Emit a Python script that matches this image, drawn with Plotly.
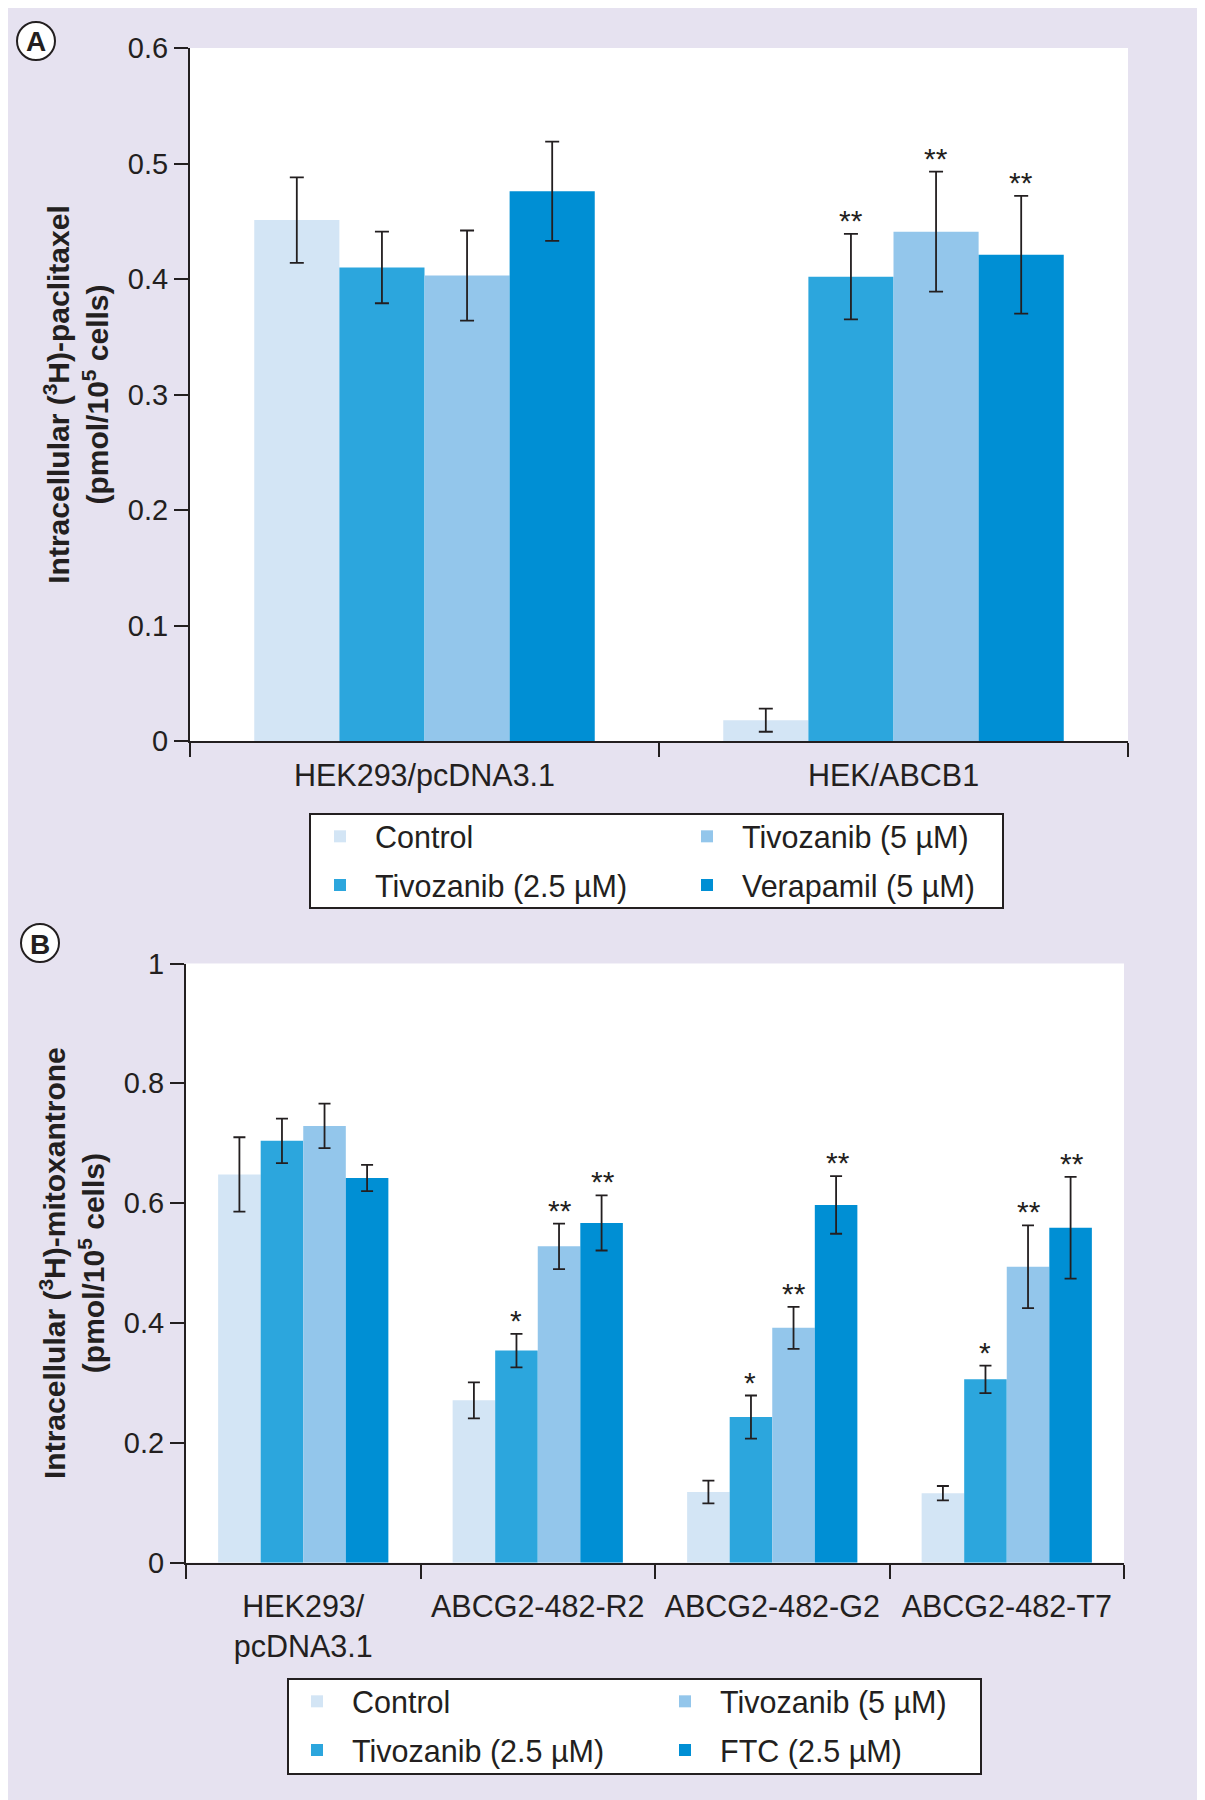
import plotly.graph_objects as go

# ---- data ----
groups_a = ["HEK293/pcDNA3.1", "HEK/ABCB1"]
series_a = ["Control", "Tivozanib (2.5 µM)", "Tivozanib (5 µM)", "Verapamil (5 µM)"]
values_a = [
    [0.451, 0.018],
    [0.410, 0.402],
    [0.403, 0.441],
    [0.476, 0.421],
]
errors_a = [
    [0.037, 0.010],
    [0.031, 0.037],
    [0.039, 0.052],
    [0.043, 0.051],
]
stars_a = [
    ["", ""],
    ["", "**"],
    ["", "**"],
    ["", "**"],
]

groups_b = ["HEK293/<br>pcDNA3.1", "ABCG2-482-R2", "ABCG2-482-G2", "ABCG2-482-T7"]
series_b = ["Control", "Tivozanib (2.5 µM)", "Tivozanib (5 µM)", "FTC (2.5 µM)"]
values_b = [
    [0.648, 0.271, 0.118, 0.116],
    [0.704, 0.354, 0.243, 0.306],
    [0.729, 0.528, 0.392, 0.494],
    [0.642, 0.567, 0.597, 0.559],
]
errors_b = [
    [0.062, 0.030, 0.019, 0.012],
    [0.037, 0.028, 0.036, 0.023],
    [0.037, 0.038, 0.035, 0.069],
    [0.022, 0.046, 0.048, 0.085],
]
stars_b = [
    ["", "", "", ""],
    ["", "*", "*", "*"],
    ["", "**", "**", "**"],
    ["", "**", "**", "**"],
]

colors = ["#d3e5f5", "#2ca6dd", "#93c6eb", "#008fd4"]
legend_col = [0, 0, 1, 1]  # two-column legend: left col / right col
FONT = "Liberation Sans, Arial, sans-serif"
INK = "#231f20"
W, H = 1205, 1800
OFF = 8  # page body margin
gap_a, gap_b = 0.274, 0.257


def px(x):
    return (x - OFF) / W


def py(y):
    return 1 - (y - OFF) / H


fig = go.Figure()

for k, name in enumerate(series_a):
    fig.add_trace(go.Bar(
        x=groups_a, y=values_a[k], name=name,
        marker=dict(color=colors[k], line=dict(width=0)),
        error_y=dict(type="data", array=errors_a[k], color=INK, thickness=1.8, width=7),
        legend="legend" if legend_col[k] == 0 else "legend2",
        legendgroup="a%d" % k,
        xaxis="x", yaxis="y",
    ))

for k, name in enumerate(series_b):
    fig.add_trace(go.Bar(
        x=groups_b, y=values_b[k], name=name,
        marker=dict(color=colors[k], line=dict(width=0)),
        error_y=dict(type="data", array=errors_b[k], color=INK, thickness=1.8, width=6),
        legend="legend3" if legend_col[k] == 0 else "legend4",
        legendgroup="b%d" % k,
        xaxis="x2", yaxis="y2",
    ))

# significance stars above the error bars
annotations = []
for stars, vals, errs, gap, ax in [(stars_a, values_a, errors_a, gap_a, ""),
                                   (stars_b, values_b, errors_b, gap_b, "2")]:
    bw = (1 - gap) / 4
    for k in range(4):
        for i, s in enumerate(stars[k]):
            if s:
                annotations.append(dict(
                    x=i + (k - 1.5) * bw, y=vals[k][i] + errs[k][i],
                    xref="x" + ax, yref="y" + ax, text=s, showarrow=False,
                    xanchor="center", yanchor="bottom", yshift=-5,
                    font=dict(size=30, color=INK, family=FONT),
                ))

# panel letters
for letter, cx, cy in [("A", 36, 41), ("B", 40, 943)]:
    fig.add_shape(type="circle", xref="paper", yref="paper",
                  x0=px(cx - 19), x1=px(cx + 19),
                  y0=py(cy + 19), y1=py(cy - 19),
                  line=dict(color=INK, width=2), fillcolor="white")
    annotations.append(dict(x=px(cx), y=py(cy + 1), xref="paper", yref="paper",
                            xanchor="center", yanchor="middle",
                            text="<b>" + letter + "</b>", showarrow=False,
                            font=dict(size=28, color=INK, family=FONT)))

# legend frames
for x0, y0, x1, y1 in [(310, 814, 1003, 908), (288, 1679, 981, 1774)]:
    fig.add_shape(type="rect", xref="paper", yref="paper", layer="below",
                  x0=px(x0), x1=px(x1), y0=py(y1), y1=py(y0),
                  line=dict(color=INK, width=2), fillcolor="white")

axis_common = dict(showline=True, linecolor=INK, linewidth=2, ticks="outside",
                   ticklen=14, tickwidth=2, tickcolor=INK, showgrid=False,
                   zeroline=False, automargin=False,
                   tickfont=dict(size=29, color=INK, family=FONT))
xfont = dict(size=30.5, color=INK, family=FONT)
title_font = dict(size=30, color=INK, family=FONT)


def legend_at(x, y):
    return dict(orientation="v", x=px(x), y=py(y), xanchor="left", yanchor="top",
                bgcolor="rgba(0,0,0,0)", borderwidth=0, itemwidth=60,
                tracegroupgap=6, font=dict(size=30.5, color=INK, family=FONT))


fig.update_layout(
    width=W, height=H,
    margin=dict(l=0, r=0, t=0, b=0),
    paper_bgcolor="#e6e2f0", plot_bgcolor="white",
    font=dict(family=FONT, size=29, color=INK),
    barmode="group", bargap=gap_a, bargroupgap=0,
    xaxis=dict(domain=[px(190), px(1128)], anchor="y", tickson="boundaries",
               ticklabelstandoff=6, **{**axis_common, "tickfont": xfont}),
    yaxis=dict(domain=[py(741), py(48)], anchor="x", range=[0, 0.6], dtick=0.1,
               title=dict(text="<b>Intracellular (<sup>3</sup>H)-paclitaxel<br>(pmol/10<sup>5</sup> cells)</b>",
                          font=title_font, standoff=10),
               **axis_common),
    xaxis2=dict(domain=[px(186), px(1124)], anchor="y2", tickson="boundaries",
                ticklabelstandoff=16, **{**axis_common, "tickfont": xfont}),
    yaxis2=dict(domain=[py(1562.7), py(963.5)], anchor="x2", range=[0, 1], dtick=0.2,
                title=dict(text="<b>Intracellular (<sup>3</sup>H)-mitoxantrone<br>(pmol/10<sup>5</sup> cells)</b>",
                           font=title_font, standoff=10),
                **axis_common),
    legend=legend_at(305, 810),
    legend2=legend_at(672, 810),
    legend3=legend_at(282, 1675),
    legend4=legend_at(650, 1675),
    annotations=annotations,
)

fig.write_html("out.html")
